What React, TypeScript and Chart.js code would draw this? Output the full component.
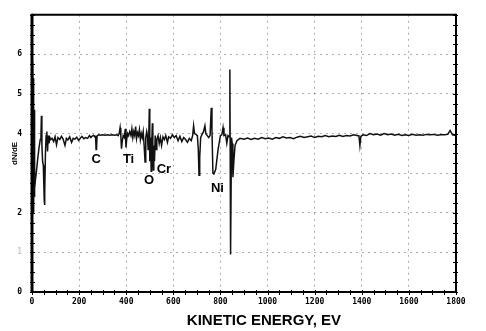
import React, { useEffect, useRef } from "react";
import { Chart, registerables } from "chart.js";

Chart.register(...registerables);

// Kinetic energy (eV) of each trace point
const energy = [
  0, 1, 2, 3, 4, 5, 6, 7, 8, 9,
  10, 11, 12, 14, 18, 24, 30, 35, 38, 40,
  42, 45, 48, 50, 52, 53, 55, 57, 60, 63,
  66, 69, 72, 76, 80, 85, 92, 98, 104, 110,
  118, 125, 132, 140, 146, 152, 160, 168, 175, 182,
  190, 198, 205, 212, 220, 228, 236, 244, 250, 256,
  262, 266, 270, 272, 274, 276, 282, 290, 300, 310,
  320, 330, 340, 350, 360, 366, 370, 374, 377, 380,
  383, 387, 392, 396, 399, 402, 406, 410, 415, 420,
  424, 428, 432, 436, 440, 444, 448, 452, 456, 460,
  464, 468, 472, 476, 480, 483, 487, 490, 493, 496,
  498, 500, 503, 506, 508, 511, 513, 515, 517, 520,
  523, 527, 530, 535, 540, 545, 550, 556, 562, 568,
  575, 580, 588, 596, 604, 612, 620, 628, 636, 644,
  652, 660, 668, 676, 682, 686, 690, 696, 702, 706,
  709, 712, 716, 722, 728, 734, 738, 744, 750, 756,
  761, 764, 768, 772, 780, 790, 800, 806, 811, 815,
  822, 827, 832, 837, 840, 843, 847, 850, 853, 857,
  862, 870, 883, 900, 915, 930, 945, 960, 975, 990,
  1005, 1020, 1035, 1050, 1065, 1080, 1095, 1110, 1125, 1140,
  1155, 1170, 1185, 1200, 1215, 1230, 1245, 1260, 1275, 1290,
  1305, 1320, 1335, 1350, 1365, 1380, 1388, 1392, 1396, 1405,
  1420, 1435, 1450, 1465, 1480, 1495, 1510, 1525, 1540, 1555,
  1570, 1585, 1600, 1615, 1630, 1645, 1660, 1675, 1690, 1705,
  1720, 1735, 1750, 1765, 1775, 1785, 1800,
];

// dN/dE signal
const signal = [
  3.0, 5.8, 2.0, 5.6, 2.1, 5.4, 2.3, 5.0, 2.0, 4.6,
  2.4, 4.0, 2.6, 2.8, 3.0, 3.35, 3.65, 3.85, 3.95, 4.45,
  3.7, 3.3, 3.2, 2.75, 2.3, 2.2, 2.5, 3.5, 3.95, 4.05,
  3.55, 3.95, 3.75, 3.9, 3.85, 3.88, 3.8, 3.92, 3.72, 3.9,
  3.85, 3.93, 3.86, 3.7, 3.88, 3.84, 3.92, 3.78, 3.88, 3.86,
  3.91, 3.83, 3.88, 3.93, 3.87, 3.9, 3.88, 3.95, 3.9, 3.94,
  3.96, 3.92, 3.93, 3.6, 3.62, 3.93, 3.97, 3.96, 3.97, 3.96,
  3.97, 3.96, 3.97, 3.96, 3.97, 3.95, 4.0, 4.15, 3.95, 3.62,
  3.8, 3.95, 3.9, 4.12, 3.65, 3.85, 4.0, 3.95, 4.05, 3.95,
  4.12, 3.9, 4.05, 3.95, 4.18, 3.88, 4.02, 3.95, 4.1, 3.85,
  4.0, 3.9, 4.05, 3.7, 3.28, 3.9, 4.05, 3.95, 3.6, 4.0,
  4.63, 3.3, 3.9, 3.05, 3.7, 4.26, 3.4, 3.08, 3.7, 3.3,
  3.95, 3.6, 3.85, 3.95, 3.75, 3.9, 3.7, 3.92, 3.85, 3.95,
  3.78, 3.92, 3.88, 3.97, 3.9, 3.95, 3.82, 3.93, 3.8, 3.9,
  3.85, 3.78, 3.88, 3.82, 3.95, 4.2, 4.0, 3.98, 3.95, 3.6,
  2.95, 3.4, 3.9, 3.98, 4.05, 4.2, 4.0, 3.95, 3.9, 3.95,
  4.65, 4.1, 3.0, 2.98, 3.1, 3.6, 3.95, 3.97, 4.15, 3.95,
  3.97, 3.76, 3.95, 3.92, 5.62, 0.95, 3.9, 3.75, 2.9, 3.3,
  3.7, 3.82, 3.88, 3.86, 3.89, 3.85, 3.88, 3.86, 3.9, 3.87,
  3.89, 3.86, 3.9, 3.88, 3.92, 3.89, 3.9, 3.87, 3.91, 3.93,
  3.9, 3.92, 3.94, 3.9, 3.93, 3.92, 3.95, 3.92, 3.94, 3.93,
  3.96, 3.93, 3.95, 3.94, 3.97, 3.95, 3.94, 3.7, 3.93, 3.97,
  3.95, 4.0, 3.97, 3.99, 3.96, 4.0, 3.97, 3.99, 3.96, 3.98,
  3.95, 3.97, 3.95, 3.98, 3.96, 3.97, 3.96, 3.98, 3.97, 3.98,
  3.96, 3.97, 3.97, 3.98, 4.08, 3.97, 3.95,
];

// Peak annotations (element, energy, label level)
const peakNames = ["C", "Ti", "O", "Cr", "Ni"];
const peakEnergy = [272, 410, 497, 560, 787];
const peakLevel = [3.34, 3.36, 2.83, 3.09, 2.62];

const xTitle = "KINETIC ENERGY, EV";
const yTitle = "dN/dE";

const framePlugin = {
  id: "augerFrame",
  afterDatasetsDraw(chart: any) {
    const { ctx, chartArea, scales } = chart;
    const { left, right, top, bottom } = chartArea;
    const xs = scales.x;
    const ys = scales.y;
    const line = (x1: number, y1: number, x2: number, y2: number) => {
      ctx.beginPath();
      ctx.moveTo(x1, y1);
      ctx.lineTo(x2, y2);
      ctx.stroke();
    };
    ctx.save();
    ctx.strokeStyle = "#000";
    ctx.lineWidth = 1;
    for (let e = 0; e <= 1800; e += 50) {
      const px = Math.round(xs.getPixelForValue(e)) + 0.5;
      line(px, bottom - 2, px, bottom + 3);
    }
    for (let v = 0; v <= 7; v += 0.25) {
      const py = Math.round(ys.getPixelForValue(v)) + 0.5;
      line(left - 2, py, left + 3, py);
      line(right - 3, py, right + 2, py);
    }
    ctx.lineWidth = 3;
    line(left, top - 1, left, bottom + 1);
    ctx.lineWidth = 2;
    line(left, top, right, top);
    line(right, top - 1, right, bottom + 1);
    line(left, bottom, right, bottom);

    ctx.fillStyle = "#000";
    ctx.textAlign = "center";
    ctx.textBaseline = "middle";
    ctx.font = 'bold 13px "Liberation Sans", Arial, sans-serif';
    peakNames.forEach((name, i) => {
      ctx.fillText(name, xs.getPixelForValue(peakEnergy[i]), ys.getPixelForValue(peakLevel[i]));
    });
    ctx.font = 'bold 15px "Liberation Sans", Arial, sans-serif';
    ctx.fillText(xTitle, left + (right - left) * 0.547, 321);
    ctx.restore();
  },
};

export default function App() {
  const canvasRef = useRef<HTMLCanvasElement | null>(null);

  useEffect(() => {
    if (!canvasRef.current) return;
    const points = energy.map((e, i) => ({ x: e, y: signal[i] }));
    const tickFont = { family: '"DejaVu Sans Mono", monospace', size: 8, weight: "bold" as const };
    const gridColor = "rgba(0,0,0,0.32)";
    const chart = new Chart(canvasRef.current, {
      type: "line",
      data: {
        datasets: [
          {
            data: points,
            borderColor: "#111",
            borderWidth: 1.5,
            pointRadius: 0,
            tension: 0,
            fill: false,
          },
        ],
      },
      options: {
        animation: false,
        responsive: true,
        maintainAspectRatio: false,
        layout: { padding: { top: 9, right: 30, left: 0, bottom: 0 } },
        plugins: { legend: { display: false }, tooltip: { enabled: false } },
        scales: {
          x: {
            type: "linear",
            min: 0,
            max: 1800,
            afterFit: (s: any) => {
              s.height = 39;
            },
            ticks: {
              stepSize: 200,
              autoSkip: false,
              maxRotation: 0,
              padding: 5,
              color: "#000",
              font: tickFont,
              callback: (v: any) => String(v),
            },
            grid: {
              drawTicks: false,
              lineWidth: 1,
              color: (c: any) =>
                c.tick && c.tick.value > 0 && c.tick.value < 1800 ? gridColor : "rgba(0,0,0,0)",
            },
            border: { display: false, dash: [2, 4] },
          },
          y: {
            type: "linear",
            min: 0,
            max: 7,
            afterFit: (s: any) => {
              s.width = 32;
            },
            title: {
              display: true,
              text: yTitle,
              color: "#000",
              font: { family: '"Liberation Sans", Arial, sans-serif', size: 8, weight: "bold" },
              padding: { top: 10, bottom: 0 },
            },
            ticks: {
              stepSize: 1,
              padding: 10,
              font: tickFont,
              color: (c: any) => (c.tick && c.tick.value === 1 ? "#c8c8c8" : "#000"),
              callback: (v: any) => (v === 3 || v === 7 ? "" : String(v)),
            },
            grid: {
              drawTicks: false,
              lineWidth: 1,
              color: (c: any) =>
                c.tick && c.tick.value > 0 && c.tick.value < 7 ? gridColor : "rgba(0,0,0,0)",
            },
            border: { display: false, dash: [2, 4] },
          },
        },
      },
      plugins: [framePlugin],
    });
    return () => chart.destroy();
  }, []);

  return (
    <div style={{ position: "absolute", left: 0, top: 0, width: 486, height: 331, background: "#fff" }}>
      <canvas ref={canvasRef} />
    </div>
  );
}
